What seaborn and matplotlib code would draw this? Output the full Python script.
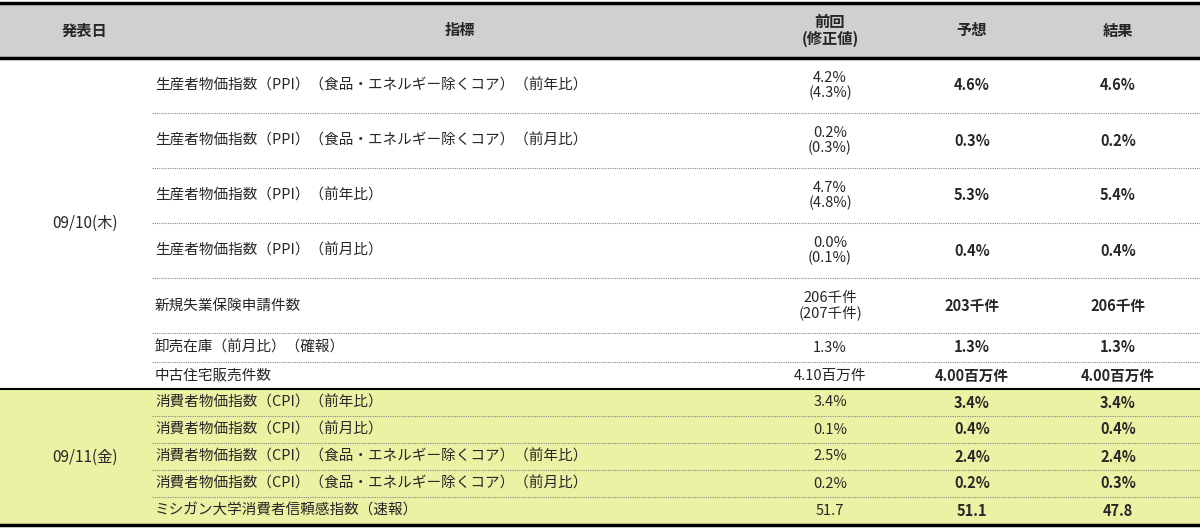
import matplotlib
matplotlib.use("Agg")
import matplotlib.pyplot as plt
import seaborn as sns

sns.set_style("white")
plt.rcParams['font.family'] = ['Noto Sans CJK JP', 'DejaVu Sans']

headers  = ["発表日", "指標", "前回\n(修正値)", "予想", "結果"]
dates    = ["09/10(木)", "09/11(金)"]
group    = [0, 0, 0, 0, 0, 0, 0, 1, 1, 1, 1, 1]
items    = ["生産者物価指数（PPI）（食品・エネルギー除くコア）（前年比）",
            "生産者物価指数（PPI）（食品・エネルギー除くコア）（前月比）",
            "生産者物価指数（PPI）（前年比）",
            "生産者物価指数（PPI）（前月比）",
            "新規失業保険申請件数",
            "卸売在庫（前月比）（確報）",
            "中古住宅販売件数",
            "消費者物価指数（CPI）（前年比）",
            "消費者物価指数（CPI）（前月比）",
            "消費者物価指数（CPI）（食品・エネルギー除くコア）（前年比）",
            "消費者物価指数（CPI）（食品・エネルギー除くコア）（前月比）",
            "ミシガン大学消費者信頼感指数（速報）"]
previous = ["4.2%\n(4.3%)", "0.2%\n(0.3%)", "4.7%\n(4.8%)", "0.0%\n(0.1%)",
            "206千件\n(207千件)", "1.3%", "4.10百万件",
            "3.4%", "0.1%", "2.5%", "0.2%", "51.7"]
forecast = ["4.6%", "0.3%", "5.3%", "0.4%", "203千件", "1.3%", "4.00百万件",
            "3.4%", "0.4%", "2.4%", "0.2%", "51.1"]
result   = ["4.6%", "0.2%", "5.4%", "0.4%", "206千件", "1.3%", "4.00百万件",
            "3.4%", "0.4%", "2.4%", "0.3%", "47.8"]
row_h    = [55, 55, 55, 55, 55, 29, 27, 27, 27, 27, 27, 28]

fig = plt.figure(figsize=(12, 5.29), dpi=100)
ax = fig.add_axes([0, 0, 1, 1])
ax.set_xlim(0, 1200)
ax.set_ylim(529, 0)
ax.axis("off")

col_x = [85, 460, 830, 972, 1118]
top, hdr_bot = 3, 58
ax.axhspan(top, hdr_bot, color="#d0d0d0", zorder=0)
for x, h in zip(col_x, headers):
    ax.text(x, (top + hdr_bot) / 2, h, ha="center", va="center",
            fontsize=11, fontweight="bold", linespacing=1.0)

y = hdr_bot
bounds = []
for i, h in enumerate(row_h):
    y0, y1 = y, y + h
    bounds.append((y0, y1))
    if group[i] == 1:
        ax.axhspan(y0, y1, color="#ebf2a3", zorder=0)
    yc = (y0 + y1) / 2
    ax.text(155, yc, items[i], ha="left", va="center", fontsize=10.5)
    ax.text(col_x[2], yc, previous[i], ha="center", va="center",
            fontsize=10.5, linespacing=1.0)
    ax.text(col_x[3], yc, forecast[i], ha="center", va="center",
            fontsize=10.5, fontweight="bold")
    ax.text(col_x[4], yc, result[i], ha="center", va="center",
            fontsize=10.5, fontweight="bold")
    if i + 1 < len(row_h) and group[i + 1] == group[i]:
        ax.plot([152, 1200], [y1, y1], color="#888888", lw=0.8,
                ls=(0, (1, 1)))
    y = y1

for g, d in enumerate(dates):
    ys = [b for b, gg in zip(bounds, group) if gg == g]
    ax.text(col_x[0], (ys[0][0] + ys[-1][1]) / 2, d, ha="center",
            va="center", fontsize=11)

grp_split = bounds[group.index(1)][0]
ax.plot([0, 1200], [top, top], color="black", lw=2.5)
ax.plot([0, 1200], [hdr_bot, hdr_bot], color="black", lw=2.5)
ax.plot([0, 1200], [grp_split, grp_split], color="black", lw=1.5)
ax.plot([0, 1200], [y, y], color="black", lw=2.5)

fig.savefig("out.png", dpi=100)
